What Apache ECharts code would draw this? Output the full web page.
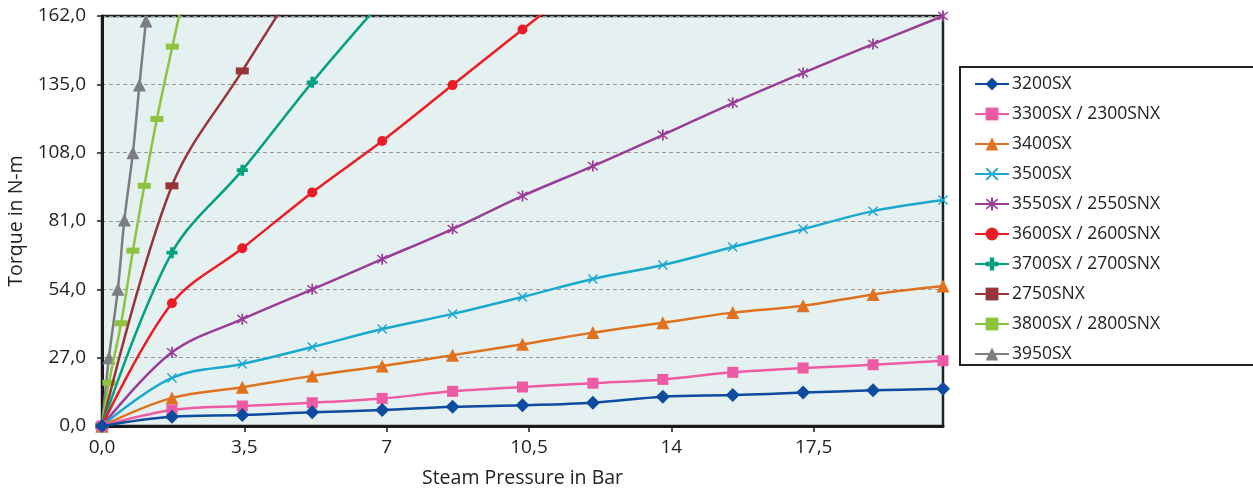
<!DOCTYPE html>
<html>
<head>
<meta charset="utf-8">
<script src="https://cdn.jsdelivr.net/npm/echarts@6/dist/echarts.min.js"></script>
<style>html,body{margin:0;padding:0;background:#fff}#c{width:1253px;height:490px}</style>
</head>
<body>
<div id="c"></div>
<script>
// ---- data ----
const pressure = [0, 1.72, 3.45, 5.17, 6.89, 8.62, 10.34, 12.07, 13.79, 15.51, 17.24, 18.96, 20.68];
const s3200 = [0, 3.7, 4.3, 5.4, 6.3, 7.6, 8.2, 9.2, 11.6, 12.2, 13.2, 14.1, 14.7];
const s3300 = [0, 6.3, 7.9, 9.2, 10.9, 13.7, 15.4, 16.9, 18.4, 21.2, 22.9, 24.2, 25.8];
const s3400 = [0, 11.1, 15.3, 19.8, 23.7, 28.0, 32.3, 36.9, 40.8, 44.8, 47.5, 52.0, 55.3];
const s3500 = [0, 19.0, 24.5, 31.2, 38.3, 44.3, 51.0, 58.1, 63.6, 70.7, 77.8, 84.9, 89.3];
const s3550 = [0, 29.1, 42.2, 54.0, 65.9, 77.8, 90.9, 102.7, 115.0, 127.6, 139.5, 150.9, 162.0];
const s3600 = [0, 48.5, 70.2, 92.3, 112.6, 134.7, 156.7, 178.5];
const s3700 = [0, 68.5, 101.1, 135.8, 168.0];
const s2750 = [0, 94.9, 140.3, 184.0];
const p3800 = [0, 0.17, 0.47, 0.76, 1.04, 1.35, 1.73, 2.1];
const s3800 = [0, 17.1, 40.6, 69.3, 94.9, 121.3, 149.9, 177.0];
const p3950 = [0, 0.17, 0.39, 0.55, 0.76, 0.92, 1.08];
const s3950 = [0, 27.0, 54.0, 81.4, 108.0, 134.7, 160.0];
const xTicks = [0, 3.5, 7, 10.5, 14, 17.5];
const xTickLabels = ['0,0', '3,5', '7', '10,5', '14', '17,5'];
const names = ['3200SX', '3300SX / 2300SNX', '3400SX', '3500SX', '3550SX / 2550SNX',
  '3600SX / 2600SNX', '3700SX / 2700SNX', '2750SNX', '3800SX / 2800SNX', '3950SX'];

const X_SYM = 'path://M1,0 L5,4 L9,0 L10,1 L6,5 L10,9 L9,10 L5,6 L1,10 L0,9 L4,5 L0,1 Z';
const AST_SYM = 'path://M1,0 L5,4 L9,0 L10,1 L6,5 L10,9 L9,10 L5,6 L1,10 L0,9 L4,5 L0,1 Z M4.2,-1 L5.8,-1 L5.8,11 L4.2,11 Z';
const PLUS_SYM = 'path://M3.3,0 L6.7,0 L6.7,3.3 L10,3.3 L10,6.7 L6.7,6.7 L6.7,10 L3.3,10 L3.3,6.7 L0,6.7 L0,3.3 L3.3,3.3 Z';

function pts(xs, ys, nVisible) {
  return ys.map((y, i) => i < nVisible ? [xs[i], y] : { value: [xs[i], y], symbol: 'none' });
}

const styles = [
  { color: '#0D4C9E', symbol: 'diamond', size: 14 },
  { color: '#EE5BA5', symbol: 'rect', size: 11 },
  { color: '#E0711E', symbol: 'triangle', size: 13 },
  { color: '#19A8CF', symbol: X_SYM, size: 10 },
  { color: '#993D99', symbol: AST_SYM, size: 11 },
  { color: '#ED1C24', symbol: 'circle', size: 10 },
  { color: '#00A080', symbol: PLUS_SYM, size: 11 },
  { color: '#983438', symbol: 'rect', size: [13, 7] },
  { color: '#8CC43F', symbol: 'rect', size: [13, 6] },
  { color: '#7B7D80', symbol: 'triangle', size: 13 }
];

const datasets = [
  pts(pressure, s3200, 99),
  pts(pressure, s3300, 99),
  pts(pressure, s3400, 99),
  pts(pressure, s3500, 99),
  pts(pressure, s3550, 99),
  pts(pressure, s3600, s3600.length - 1),
  pts(pressure, s3700, s3700.length - 1),
  pts(pressure, s2750, s2750.length - 1),
  pts(p3800, s3800, s3800.length - 1),
  pts(p3950, s3950, 99)
];

const series = names.map((n, i) => ({
  name: n,
  type: 'line',
  data: datasets[i],
  smooth: 0.35,
  clip: true,
  symbol: styles[i].symbol,
  symbolSize: styles[i].size,
  showAllSymbol: true,
  lineStyle: { color: styles[i].color, width: 2.5 },
  itemStyle: { color: styles[i].color },
  emphasis: { disabled: true },
  z: 3 + (names.length - i)
}));

const font = '"Open Sans", "Noto Sans", sans-serif';
const chart = echarts.init(document.getElementById('c'), null, { renderer: 'canvas' });
chart.setOption({
  animation: false,
  backgroundColor: '#fff',
  textStyle: { fontFamily: font },
  grid: {
    left: 102, right: 310, top: 16, bottom: 64,
    outerBoundsMode: 'none', containLabel: false,
    show: true, backgroundColor: '#E5F0F0', borderColor: '#222', borderWidth: 2.5
  },
  xAxis: {
    type: 'value', min: 0, max: 20.68, interval: 3.5,
    name: 'Steam Pressure in Bar', nameLocation: 'middle', nameGap: 42,
    nameTextStyle: { fontSize: 19.5, color: '#222', fontFamily: font },
    axisLine: { show: true, lineStyle: { color: '#1a1a1a', width: 3 } },
    axisTick: { show: true, length: 6, lineStyle: { color: '#1a1a1a', width: 1.5 }, customValues: xTicks },
    axisLabel: {
      fontSize: 19, color: '#222', margin: 12, fontFamily: font,
      customValues: xTicks,
      formatter: v => { const i = xTicks.indexOf(v); return i >= 0 ? xTickLabels[i] : ''; }
    },
    splitLine: { show: false }
  },
  yAxis: {
    type: 'value', min: 0, max: 162, interval: 27,
    name: 'Torque in N-m', nameLocation: 'middle', nameGap: 73, nameRotate: 90,
    nameTextStyle: { fontSize: 19.5, color: '#222', fontFamily: font },
    axisLine: { show: true, lineStyle: { color: '#1a1a1a', width: 3 } },
    axisTick: { show: true, length: 5, lineStyle: { color: '#1a1a1a', width: 1.5 } },
    axisLabel: { fontSize: 19, color: '#222', margin: 16, fontFamily: font,
      formatter: v => v.toFixed(1).replace('.', ',') },
    splitLine: { show: true, lineStyle: { color: '#999', type: [4, 3], width: 1 } }
  },
  legend: {
    orient: 'vertical', left: 969, top: 70,
    itemWidth: 34, itemHeight: 16, itemGap: 12,
    textStyle: { fontSize: 17.5, color: '#222', fontFamily: font, lineHeight: 16, padding: [0, 0, 0, -2] },
    data: names
  },
  graphic: [{
    type: 'rect', z: 1,
    shape: { x: 960, y: 67, width: 320, height: 298 },
    style: { fill: 'none', stroke: '#222', lineWidth: 2 }
  }],
  series: series
});
</script>
</body>
</html>
